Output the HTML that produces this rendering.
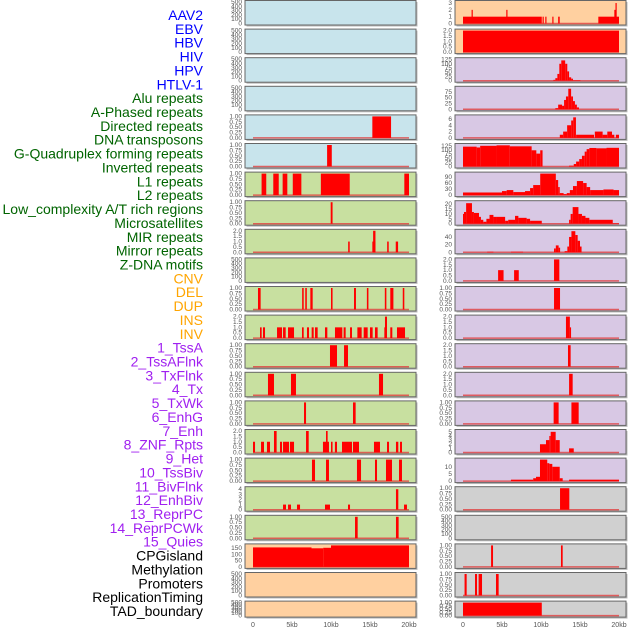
<!DOCTYPE html>
<html><head><meta charset="utf-8">
<style>
html,body{margin:0;padding:0;background:#fff;}
svg{display:block;}
text{font-family:"Liberation Sans",sans-serif;}
</style></head>
<body>
<svg id="chart" width="630" height="630" viewBox="0 0 630 630" xmlns="http://www.w3.org/2000/svg"></svg>
<script>
// ---- data ----
const trackLabels = ["AAV2","EBV","HBV","HIV","HPV","HTLV-1","Alu repeats","A-Phased repeats","Directed repeats","DNA transposons","G-Quadruplex forming repeats","Inverted repeats","L1 repeats","L2 repeats","Low_complexity A/T rich regions","Microsatellites","MIR repeats","Mirror repeats","Z-DNA motifs","CNV","DEL","DUP","INS","INV","1_TssA","2_TssAFlnk","3_TxFlnk","4_Tx","5_TxWk","6_EnhG","7_Enh","8_ZNF_Rpts","9_Het","10_TssBiv","11_BivFlnk","12_EnhBiv","13_ReprPC","14_ReprPCWk","15_Quies","CPGisland","Methylation","Promoters","ReplicationTiming","TAD_boundary"];
const labelColors = ["#0000ff","#0000ff","#0000ff","#0000ff","#0000ff","#0000ff","#006400","#006400","#006400","#006400","#006400","#006400","#006400","#006400","#006400","#006400","#006400","#006400","#006400","#ffa500","#ffa500","#ffa500","#ffa500","#ffa500","#a020f0","#a020f0","#a020f0","#a020f0","#a020f0","#a020f0","#a020f0","#a020f0","#a020f0","#a020f0","#a020f0","#a020f0","#a020f0","#a020f0","#a020f0","#000000","#000000","#000000","#000000","#000000"];
const xTickValues = [0,5,10,15,20];
const xTickLabels = ["0","5kb","10kb","15kb","20kb"];

const leftBg = ["#c8e4ec","#c8e4ec","#c8e4ec","#c8e4ec","#c8e4ec","#c8e4ec","#c8e0a0","#c8e0a0","#c8e0a0","#c8e0a0","#c8e0a0","#c8e0a0","#c8e0a0","#c8e0a0","#c8e0a0","#c8e0a0","#c8e0a0","#c8e0a0","#c8e0a0","#ffd0a0","#ffd0a0","#ffd0a0"];
const rightBg = ["#ffd0a0","#ffd0a0","#d8c8e4","#d8c8e4","#d8c8e4","#d8c8e4","#d8c8e4","#d8c8e4","#d8c8e4","#d8c8e4","#d8c8e4","#d8c8e4","#d8c8e4","#d8c8e4","#d8c8e4","#d8c8e4","#d8c8e4","#d0d0d0","#d0d0d0","#d0d0d0","#d0d0d0","#d0d0d0"];

const E=[0,100,200,300,400,500], T1=[0,0.25,0.5,0.75,1], T2=[0,0.5,1,1.5,2];
const leftTicks = [E,E,E,E,T1,T1,T1,T1,T2,E,T1,T2,T1,T1,T1,T2,T1,[0,1,2,3,4],T1,[0,50,100,150],E,E];
const leftYmax = [500,500,500,500,1,1,1,1,2,500,1,2,1,1,1,2,1,4.2,1,171,500,500];
const rightTicks = [[0,1,2,3],T2,[0,25,50,75,100,125],[0,25,50,75],[0,2,4,6],[0,25,50,75,100,125],[0,30,60,90],[0,5,10,15,20],[0,20,40],T2,T1,T2,T2,T2,T1,[0,1,2,3,4,5],[0,5,10],T1,E,T1,T1,T1];
const rightYmax = [3.15,2,127,92,6.8,130,107,22,56,2,1,2,2,2,1,5.2,15,1,500,1,1,1];

// bars: [startKb, endKb, value]
const leftBars = [
 [],[],[],[],
 [[15.3,17.7,1]],
 [[9.5,10.1,1]],
 [[1.1,1.7,1],[2.6,3.3,1],[3.8,4.4,1],[5.1,6.2,1],[8.7,12.4,1],[19.4,20,1]],
 [[9.96,10.2,1]],
 [[12.2,12.4,1],[15.3,15.7,1],[15.4,15.7,2],[17.2,17.4,1],[18.3,18.6,1]],
 [],
 [[0.64,0.98,1],[6.3,6.5,1],[6.7,6.9,1],[7.35,7.65,1],[10,10.2,1],[12.95,13.2,1],[14.6,14.8,1],[16.9,17.1,1],[17.6,18.0,1],[19.2,19.4,1]],
 [[0.9,1.11,1],[1.28,1.54,1],[3.08,3.72,1],[3.85,4.19,1],[4.49,5.26,1],[6.28,6.5,1],[6.92,7.18,1],[7.52,7.78,1],[7.95,8.29,1],[9.23,9.53,1],[10.51,11.45,1],[11.62,11.88,1],[12.44,12.69,1],[13.38,13.93,1],[14.19,14.7,1],[15.0,15.34,1],[15.64,15.98,1],[16.84,16.92,1],[16.92,17.18,2],[17.6,17.86,1],[18.46,19.49,1]],
 [[9.87,10.77,1],[11.67,12.18,1]],
 [[1.92,2.69,1],[4.87,5.51,1],[16.15,16.67,1]],
 [[6.54,6.8,1],[12.82,13.16,1]],
 [[0,0.26,1],[1.03,1.41,1],[1.79,2.18,1],[2.69,3.03,2],[3.46,3.72,1],[3.85,4.62,1],[4.74,5.26,1],[6.8,7.14,2],[8.97,9.74,1],[9.36,9.57,2],[10,10.2,1],[10.5,10.77,1],[11.41,12.69,1],[12.82,13.59,1],[15.51,16.28,1],[17.18,17.44,1],[18.33,18.63,1],[18.85,19.1,1]],
 [[7.56,7.95,1],[9.36,9.74,1],[13.33,13.85,1],[15.64,15.9,1],[17.05,17.82,1],[18.72,19.1,1]],
 [[3.85,4.23,1],[4.49,4.87,1],[5.64,6.03,1],[9.23,9.87,1],[12.18,12.44,1],[18.33,18.63,4],[19.36,19.74,1]],
 [[13.08,13.42,1],[18.33,18.67,1]],
 [[0,7.5,155],[7.5,9,148],[9,10,152],[10,20,171]],
 [],[]
];
const rightBars = [
 [[0,10.1,1],[1.1,1.25,2],[5.55,5.7,2],[10.2,10.3,1],[10.55,10.7,1],[11.45,11.6,1],[12.2,12.4,1],[17.35,20,1],[19.4,19.55,2],[19.55,19.62,3]],
 [[0,20,2]],
 [[11.58,11.84,5],[11.84,12.1,15],[12.1,12.35,40],[12.35,12.6,100],[12.6,13.1,120],[13.1,13.37,100],[13.37,13.6,55],[13.6,13.87,20],[13.87,14.1,12],[14.1,15.06,3]],
 [[11.84,12.2,5],[12.2,12.7,20],[12.7,12.96,15],[12.96,13.2,40],[13.2,13.5,55],[13.5,13.86,88],[13.86,14.1,55],[14.1,14.35,35],[14.35,14.6,20],[14.6,14.87,8]],
 [[12.41,12.84,1],[12.84,13.35,2],[13.35,13.87,4],[13.87,14.13,5.5],[14.13,14.48,6.5],[14.5,16.8,1],[16.9,17.9,2],[17.9,18.5,1],[18.5,19.1,2],[19.1,19.4,1],[19.6,20,1]],
 [[0,1.75,120],[1.75,2.2,115],[2.2,4.3,125],[4.3,6,128],[6,8.8,122],[8.8,9.4,98],[9.4,9.9,78],[9.9,10.2,98],[13.6,14.2,5],[14.2,14.5,15],[14.5,14.9,30],[14.9,15.25,45],[15.25,15.6,65],[15.6,15.85,90],[15.85,16.2,105],[16.2,17.1,112],[17.1,18.4,110],[18.4,20,113]],
 [[0,5,13],[5,5.6,20],[5.6,6.45,25],[6.45,7.95,15],[7.95,8.6,20],[8.6,9,35],[9,9.9,50],[9.9,11.9,107],[11.9,12.2,75],[12.2,12.4,40],[12.4,12.9,10],[12.9,13.3,5],[13.3,13.7,10],[13.7,14.1,25],[14.1,14.6,45],[14.6,15.4,70],[15.4,15.85,60],[15.85,16.3,40],[16.3,18,25],[18,19.3,28],[19.3,20,25]],
 [[0,0.13,10],[0.13,0.4,12],[0.4,1.15,21],[1.15,1.4,12],[1.4,2.05,11],[2.05,2.3,7],[2.3,2.6,4],[2.6,3.0,2],[3.0,3.4,5],[3.4,3.9,9],[3.9,4.3,7],[4.3,5.4,7],[5.4,5.8,3],[5.8,6.67,4],[6.67,7.1,8],[7.1,8.16,6],[8.16,8.6,5],[8.6,10.1,3],[13.6,13.8,4],[13.8,14.06,10],[14.06,14.8,17],[14.8,15.25,10],[15.25,15.7,8],[15.7,16.2,6],[16.2,19.2,4],[19.2,20,0.5]],
 [[3.1,3.9,1.5],[6.15,7.7,1.5],[11.67,11.9,10],[11.9,12.26,18],[12.26,12.45,12],[13.03,13.38,3],[13.38,13.6,15],[13.6,13.9,40],[13.9,14.4,55],[14.4,14.7,45],[14.7,15.0,30],[15.0,15.2,15]],
 [[4.5,5.2,1],[6.55,7.15,1],[11.67,12.35,2]],
 [[11.67,12.44,1]],
 [[13.2,13.7,2],[13.7,13.85,1]],
 [[13.46,13.8,2]],
 [[13.6,14.06,2]],
 [[11.62,12.26,1],[13.9,14.83,1]],
 [[9.87,10.64,2],[10.64,11.07,3],[11.07,11.24,4],[11.24,11.88,5],[11.88,12.4,3],[13.6,14.2,1]],
 [[6.15,9.0,1],[9.0,9.36,2],[9.36,9.87,3],[9.87,10.8,15],[10.8,11.07,12.5],[11.07,11.45,12],[11.45,12.4,10],[12.4,12.78,2],[13.6,20,1]],
 [[12.44,13.63,1]],
 [],
 [[3.6,3.85,1],[12.56,12.78,1]],
 [[0.2,0.47,1],[1.54,1.8,1],[2.0,2.44,1],[4.23,4.57,1]],
 [[0,10.1,1]]
];

// ---- layout ----
const NS="http://www.w3.org/2000/svg";
const svg=document.getElementById('chart');
function mk(tag,attrs,parent){const e=document.createElementNS(NS,tag);for(const k in attrs)e.setAttribute(k,attrs[k]);(parent||svg).appendChild(e);return e;}
const ROW0=0.5, STEP=28.6, PH=24.5;
const cols=[{x0:245,x1:416,d0:253,d1:409,bg:leftBg,ticks:leftTicks,ymax:leftYmax,bars:leftBars,side:'left'},
            {x0:455,x1:626,d0:463,d1:619,bg:rightBg,ticks:rightTicks,ymax:rightYmax,bars:rightBars,side:'right'}];
function fmt(v,ticks){const st=ticks[1]-ticks[0];let d=st<0.5?2:(st<1?1:0);if(ticks===T2)d=1;return v.toFixed(d);}

// labels
const nL=trackLabels.length;
for(let i=0;i<nL;i++){
  const t=mk('text',{x:203,y:15+i*(596/(nL-1))+5,'text-anchor':'end','font-size':'14',fill:labelColors[i]});
  
  
  t.textContent=trackLabels[i];
}

cols.forEach(c=>{
  const xs=kb=>c.d0+(kb/20)*(c.d1-c.d0);
  for(let r=0;r<c.bg.length;r++){
    const top=ROW0+r*STEP, h=(r===21?16:PH), bot=top+h;
    const g=mk('g',{});
    
    
    mk('rect',{x:c.x0+1.5,y:top+1.5,width:c.x1-c.x0,height:h,fill:'#bbb'},g);
    mk('rect',{x:c.x0,y:top,width:c.x1-c.x0,height:h,fill:c.bg[r],stroke:'#666','stroke-width':1},g);
    const ymax=c.ymax[r], yb=bot-1.5, yt=top+1.5;
    const ys=v=>yb-(v/ymax)*(yb-yt);
    // ticks
    const tk=c.ticks[r];
    tk.forEach(v=>{
      const t=mk('text',{x:c.x0-3,y:ys(v)+2,'text-anchor':'end','font-size':'6.5',fill:'#555'},g);
      
      
      t.textContent=fmt(v,tk);
    });
    const bars=c.bars[r];
    if(bars.length){
      const bl=mk('line',{x1:xs(0),x2:xs(20),y1:yb,y2:yb,stroke:'#e04040','stroke-width':1.5,'stroke-opacity':0.8},g);
      
      
    }
    bars.forEach(b=>{
      const x=xs(b[0]), w=Math.max(1.2,xs(b[1])-x), y=ys(b[2]);
      const rc=mk('rect',{x:x,y:y,width:w,height:yb-y,fill:'#ff0000'},g);
      
      
    });
  }
  xTickValues.forEach((v,i)=>{
    const t=mk('text',{x:xs(v),y:627,'text-anchor':'middle','font-size':'7',fill:'#555'});
    
    
    t.textContent=xTickLabels[i];
  });
});
</script>
</body></html>
